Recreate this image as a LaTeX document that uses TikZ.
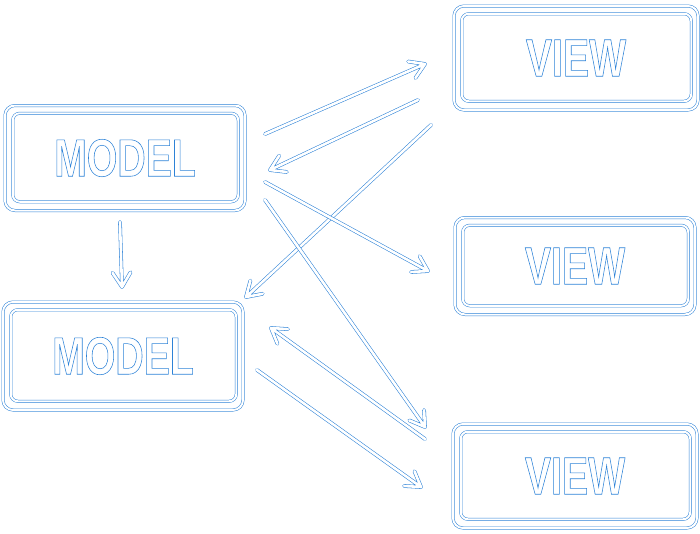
\documentclass[tikz,border=0pt]{standalone}
\usepackage{fontspec}
\setmainfont{Liberation Sans}
\newfontfamily\boxfont[FakeStretch=0.74]{Liberation Sans Bold}
\usetikzlibrary{calc}
\definecolor{blu}{RGB}{45,130,215}
\newcommand\outlined[1]{\special{pdf:literal 1 Tr 0.55 w}#1\special{pdf:literal 0 Tr}}
\tikzset{
  hollow/.style={draw=blu, line width=0.55pt, double=white, double distance=2.6pt, line cap=round, line join=round},
  hollowbox/.style={draw=blu, line width=0.5pt, double=white, double distance=2pt, rounded corners=7pt},
  boxnode/.style={hollowbox, rounded corners=10pt, text=blu, font=\boxfont\fontsize{53}{53}\selectfont, inner sep=0pt},
}
\newcommand\harrow[2]{\draw[hollow] (#1) -- (#2) ($(#2)!17pt!32:(#1)$) -- (#2) -- ($(#2)!17pt!-32:(#1)$);}
\begin{document}
\begin{tikzpicture}[x=1pt,y=-1pt]
\useasboundingbox (0,0) rectangle (700,533);
% boxes
\node[boxnode, minimum width=240pt, minimum height=105pt] (m1) at (125,158) {\outlined{MODEL}};
\node[boxnode, minimum width=240pt, minimum height=108pt] (m2) at (123,356) {\outlined{MODEL}};
\node[boxnode, minimum width=244pt, minimum height=104pt] (v1) at (576,58) {\outlined{VIEW}};
\node[boxnode, minimum width=240pt, minimum height=97pt] (v2) at (575,266) {\outlined{VIEW}};
\node[boxnode, minimum width=244pt, minimum height=104pt] (v3) at (575,476) {\outlined{VIEW}};
\foreach \b in {m1,m2,v1,v2,v3}{
  \draw[hollowbox] ([shift={(8,8)}]\b.north west) rectangle ([shift={(-7,-9)}]\b.south east);
}
% arrow end points
\coordinate (a1s) at (265,134);  \coordinate (a1e) at (425,64);
\coordinate (a2s) at (418,100);  \coordinate (a2e) at (270,170);
\coordinate (a3s) at (431,125);  \coordinate (a3e) at (246,297);
\coordinate (a4s) at (265,182);  \coordinate (a4e) at (428,271);
\coordinate (a5s) at (265,200);  \coordinate (a5e) at (425,427);
\coordinate (a6s) at (425,439);  \coordinate (a6e) at (271,328);
\coordinate (a7s) at (257,370);  \coordinate (a7e) at (421,487);
\coordinate (a8s) at (120,222);  \coordinate (a8e) at (122,287);
\harrow{a1s}{a1e}
\harrow{a2s}{a2e}
\harrow{a3s}{a3e}
\harrow{a4s}{a4e}
\harrow{a5s}{a5e}
\harrow{a6s}{a6e}
\harrow{a7s}{a7e}
\harrow{a8s}{a8e}
\end{tikzpicture}
\end{document}
